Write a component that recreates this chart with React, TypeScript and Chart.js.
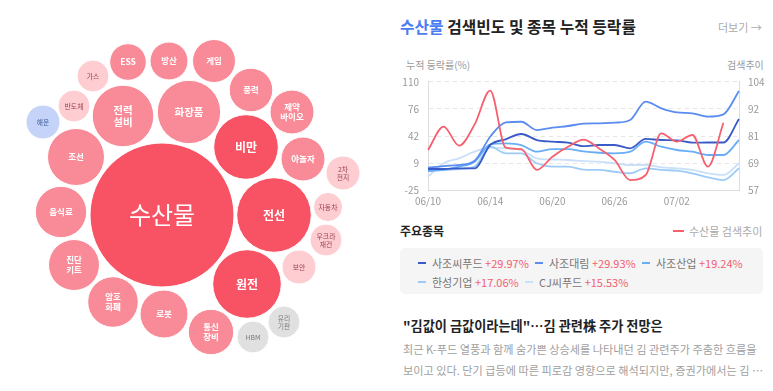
import React, { useEffect, useRef } from 'react';
import { Chart, registerables } from 'chart.js';

Chart.register(...registerables);

const FONT = '"Noto Sans CJK KR", "Noto Sans", sans-serif';

// ---------- Bubble cluster data ----------
const bubbleNames = ['수산물', '비만', '전선', '원전', '화장품', '전력\n설비', '조선', '음식료', '진단\n키트', '암호\n화폐', '로봇', '통신\n장비', 'ESS', '방산', '게임', '풍력', '제약\n바이오', '야놀자', '가스', '반도체', '해운', '2차\n전지', '자동차', '우크라\n재건', '보안', 'HBM', '유리\n기판'];
const bubbleX = [162, 246, 274, 247, 189, 123, 76, 61, 74, 113, 164, 211, 128, 169, 214, 251, 292, 303, 93, 74, 43, 343, 328, 326, 299, 253, 284];
const bubbleY = [215, 147, 215, 284, 112, 116, 157, 212, 265, 302, 314, 332, 62, 61, 61, 90, 112, 159, 76, 106, 122, 173, 207, 240, 267, 337, 322];
const bubbleR = [72, 32.3, 37.3, 34.3, 31.7, 30.8, 28.5, 25.7, 25.5, 25.3, 24, 22.7, 18.3, 19, 21.5, 21.8, 22, 22, 16, 16, 17, 17, 14.5, 16, 17, 16, 16];
// heat level: 3 hot, 2 warm, 1 mild, 0 falling, -1 neutral
const bubbleLevel = [3, 3, 3, 3, 2, 2, 2, 2, 2, 2, 2, 2, 2, 2, 2, 2, 2, 2, 1, 1, 0, 1, 1, 1, 1, -1, -1];

// ---------- Line chart data ----------
const dates = ['06/10', '06/11', '06/12', '06/13', '06/14', '06/17', '06/18', '06/19', '06/20', '06/21', '06/24', '06/25', '06/26', '06/27', '06/28', '07/01', '07/02', '07/03', '07/04', '07/05', '07/08'];
const searchTrend = [74.5, 84.6, 76.4, 85.6, 100.2, 75.5, 74.9, 65.9, 71.6, 75.9, 79.0, 75.2, 70.2, 61.5, 63.7, 81.7, 78.1, 81.0, 67.3, 86.3, null];
const sajoSeafood = [1.7, 1.7, 2.5, 2.5, 31.5, 38.6, 45.2, 37.7, 35.6, 34.4, 30.0, 31.5, 31.5, 27.4, 39.0, 37.7, 37.3, 34.4, 34.6, 34.6, 63.8];
const sajoDaerim = [3.3, 5.4, 6.7, 12.0, 41.8, 59.7, 60.4, 50.1, 53.0, 55.1, 58.0, 58.4, 59.2, 62.6, 85.3, 77.1, 72.1, 70.9, 66.7, 69.6, 98.6];
const sajoIndustries = [-0.8, 0.5, 4.6, 10.8, 32.4, 33.6, 31.5, 23.2, 26.5, 26.5, 23.6, 21.9, 21.2, 23.2, 35.6, 29.4, 25.3, 23.2, 19.1, 19.1, 37.7];
const hansung = [0.5, 0.5, 1.7, 4.6, 29.4, 21.2, 21.2, 8.8, 4.6, 4.6, 0.9, 0.5, -1.7, -3.6, 2.6, 0.5, -0.4, -3.6, -8.6, -12.0, 2.6];
const cjSeafood = [-7.9, 8.8, 15.0, 23.2, 28.2, 27.4, 25.3, 15.0, 13.5, 12.9, 11.5, 10.8, 8.8, 6.7, 6.7, 3.8, 2.6, 0.5, -3.6, -5.7, 8.8];
const leftTickLabels = ['-25', '9', '42', '76', '110'];
const rightTickLabels = ['57', '69', '81', '92', '104'];

const stockNames = ['사조씨푸드', '사조대림', '사조산업', '한성기업', 'CJ씨푸드'];
const stockChanges = ['+29.97%', '+29.93%', '+19.24%', '+17.06%', '+15.53%'];
const stockSeries = [sajoSeafood, sajoDaerim, sajoIndustries, hansung, cjSeafood];
const stockColors = ['#3a5bc7', '#5b8cf0', '#68aef6', '#9ccbf8', '#c9e0f8'];

const RED = '#f6606e';

const levelFill = (l: number) =>
  l === 3 ? '#f75364' : l === 2 ? '#f88b97' : l === 1 ? '#fdcdd1' : l === 0 ? '#c4d3f7' : '#e0e0e0';
const levelText = (l: number) =>
  l >= 2 ? '#ffffff' : l === 1 ? '#9a3d4b' : l === 0 ? '#41609e' : '#7a7a7a';

const bubbleLabelPlugin = {
  id: 'bubbleLabels',
  afterDatasetsDraw(chart: any) {
    const ctx = chart.ctx;
    const meta = chart.getDatasetMeta(0);
    meta.data.forEach((el: any, i: number) => {
      const lvl = bubbleLevel[i];
      const r = bubbleR[i];
      let fs = 6.8;
      let weight = 'normal';
      if (lvl === 3) { fs = r > 60 ? 24 : 12; weight = r > 60 ? 'normal' : 'bold'; }
      else if (lvl === 2) { fs = r > 29 ? 10.5 : 8.5; weight = 'bold'; }
      const lines = bubbleNames[i].split('\n');
      ctx.save();
      ctx.fillStyle = levelText(lvl);
      ctx.font = `${weight} ${fs}px ${FONT}`;
      ctx.textAlign = 'center';
      ctx.textBaseline = 'middle';
      const lh = fs * 1.2;
      lines.forEach((ln: string, j: number) => {
        ctx.fillText(ln, el.x, el.y + (j - (lines.length - 1) / 2) * lh);
      });
      ctx.restore();
    });
  },
};

function BubbleCluster() {
  const ref = useRef<HTMLCanvasElement>(null);
  useEffect(() => {
    if (!ref.current) return;
    const chart = new Chart(ref.current, {
      type: 'bubble',
      data: {
        datasets: [
          {
            data: bubbleNames.map((_, i) => ({ x: bubbleX[i], y: bubbleY[i], r: bubbleR[i] })),
            backgroundColor: bubbleLevel.map(levelFill),
            borderColor: '#ffffff',
            borderWidth: 1,
            hoverRadius: 0,
            clip: false as any,
          },
        ],
      },
      options: {
        animation: false,
        responsive: false,
        maintainAspectRatio: false,
        events: [],
        layout: { padding: 0, autoPadding: false },
        plugins: { legend: { display: false }, tooltip: { enabled: false } },
        scales: {
          x: { type: 'linear', min: 0, max: 390, display: false },
          y: { type: 'linear', min: 0, max: 391, reverse: true, display: false },
        },
      },
      plugins: [bubbleLabelPlugin],
    } as any);
    return () => chart.destroy();
  }, []);
  return <canvas ref={ref} width={390} height={391} style={{ position: 'absolute', left: 0, top: 0 }} />;
}

function TrendChart() {
  const ref = useRef<HTMLCanvasElement>(null);
  useEffect(() => {
    if (!ref.current) return;
    const tickFont = { family: FONT, size: 10 };
    const chart = new Chart(ref.current, {
      type: 'line',
      data: {
        labels: dates,
        datasets: [
          { label: '수산물 검색추이', data: searchTrend, yAxisID: 'y1', borderColor: RED },
          ...stockNames.map((n, i) => ({ label: n, data: stockSeries[i], yAxisID: 'y', borderColor: stockColors[i] })),
        ],
      },
      options: {
        animation: false,
        responsive: false,
        maintainAspectRatio: false,
        events: [],
        layout: { padding: { top: 21.8, left: 0, right: 0, bottom: 0 } },
        elements: {
          point: { radius: 0 },
          line: { borderWidth: 1.8, cubicInterpolationMode: 'monotone', fill: false },
        },
        plugins: { legend: { display: false }, tooltip: { enabled: false } },
        scales: {
          x: {
            grid: { display: false, drawTicks: false },
            border: { display: true, color: '#dddddd' },
            ticks: {
              autoSkip: false,
              maxRotation: 0,
              color: '#9a9a9a',
              font: tickFont,
              padding: 5,
              callback: (_v: any, i: number) => (i % 4 === 0 && i < 20 ? dates[i] : ''),
            },
            afterFit: (s: any) => { s.height = 24.5; },
          },
          y: {
            position: 'left',
            min: -25,
            max: 110,
            ticks: {
              stepSize: 33.75,
              color: '#9a9a9a',
              font: tickFont,
              padding: 9,
              callback: (_v: any, i: number) => leftTickLabels[i],
            },
            grid: { color: '#e6e6e6', drawTicks: false },
            border: { display: true, color: '#dddddd', dash: [4, 4] },
            afterFit: (s: any) => { s.width = 38; },
          },
          y1: {
            position: 'right',
            min: 57,
            max: 104,
            ticks: {
              stepSize: 11.75,
              color: '#9a9a9a',
              font: tickFont,
              padding: 9,
              callback: (_v: any, i: number) => rightTickLabels[i],
            },
            grid: { drawOnChartArea: false, drawTicks: false },
            border: { display: true, color: '#dddddd' },
            afterFit: (s: any) => { s.width = 34; },
          },
        },
      },
    } as any);
    return () => chart.destroy();
  }, []);
  return <canvas ref={ref} width={383} height={155} style={{ position: 'absolute', left: 390, top: 60 }} />;
}

const abs = (left: number, top: number, extra: React.CSSProperties = {}): React.CSSProperties => ({
  position: 'absolute',
  left,
  top,
  whiteSpace: 'nowrap',
  ...extra,
});

export default function App() {
  const legendPos = [
    [418, 263],
    [535, 263],
    [642, 263],
    [418, 282],
    [525, 282],
  ];
  return (
    <div
      style={{
        position: 'fixed',
        left: 0,
        top: 0,
        width: 773,
        height: 391,
        background: '#ffffff',
        overflow: 'hidden',
        fontFamily: FONT,
      }}
    >
      <BubbleCluster />
      <div style={abs(400, 16, { fontSize: 15.8, fontWeight: 'bold', lineHeight: '22px', color: '#222' })}>
        <span style={{ color: '#4a7cf2' }}>수산물</span> 검색빈도 및 종목 누적 등락률
      </div>
      <div style={abs(718, 19, { fontSize: 11, lineHeight: '16px', color: '#aaaaaa' })}>더보기 →</div>
      <div style={abs(406, 59, { fontSize: 10, lineHeight: '12px', color: '#9a9a9a' })}>누적 등락률(%)</div>
      <div style={abs(727, 59, { fontSize: 10, lineHeight: '12px', color: '#9a9a9a' })}>검색추이</div>
      <TrendChart />
      <div style={abs(400, 223, { fontSize: 12, fontWeight: 'bold', lineHeight: '16px', color: '#222' })}>주요종목</div>
      <div style={abs(673, 230, { width: 11, height: 2, background: RED })} />
      <div style={abs(689, 224, { fontSize: 11, lineHeight: '14px', color: '#aaaaaa' })}>수산물 검색추이</div>
      <div style={abs(400, 248, { width: 363, height: 46, background: '#f5f5f5', borderRadius: 5 })} />
      {stockNames.map((n, i) => (
        <React.Fragment key={n}>
          <div style={abs(legendPos[i][0], legendPos[i][1] - 1, { width: 8, height: 2, background: stockColors[i] })} />
          <div style={abs(legendPos[i][0] + 14, legendPos[i][1] - 8, { fontSize: 11, lineHeight: '16px', color: '#777' })}>
            {n} <span style={{ color: '#f26070' }}>{stockChanges[i]}</span>
          </div>
        </React.Fragment>
      ))}
      <div style={abs(403, 317, { fontSize: 13.2, fontWeight: 'bold', lineHeight: '18px', color: '#222' })}>
        "김값이 금값이라는데"…김 관련株 주가 전망은
      </div>
      <div style={abs(403, 339, { fontSize: 11.15, lineHeight: '21px', color: '#a0a0a0' })}>
        최근 K-푸드 열풍과 함께 숨가쁜 상승세를 나타내던 김 관련주가 주춤한 흐름을
        <br />
        보이고 있다. 단기 급등에 따른 피로감 영향으로 해석되지만, 증권가에서는 김 …
      </div>
    </div>
  );
}
